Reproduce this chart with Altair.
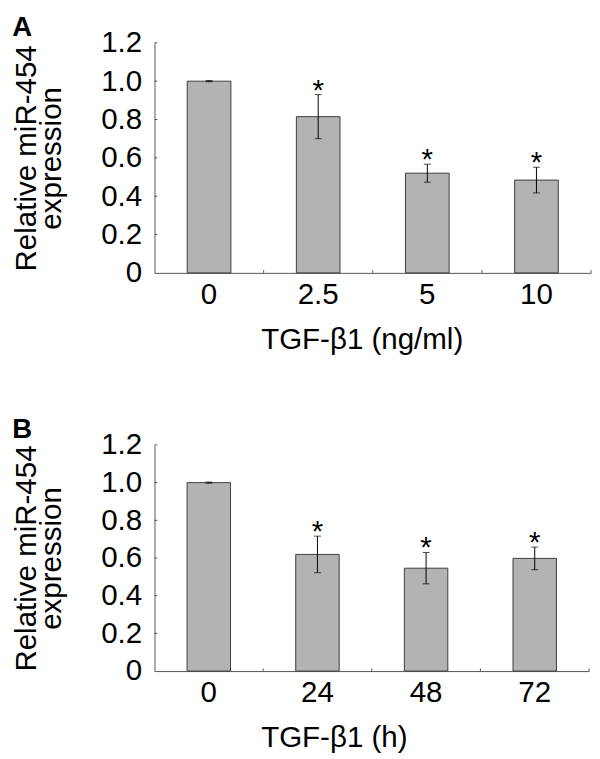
import altair as alt
import pandas as pd

# Panel A: TGF-beta1 dose
a_cats = ["0", "2.5", "5", "10"]
a_vals = [1.0, 0.815, 0.52, 0.484]
a_errs = [0.003, 0.115, 0.047, 0.067]
a_sig = ["", "*", "*", "*"]

# Panel B: TGF-beta1 time
b_cats = ["0", "24", "48", "72"]
b_vals = [1.0, 0.619, 0.546, 0.598]
b_errs = [0.003, 0.097, 0.083, 0.06]
b_sig = ["", "*", "*", "*"]

y_ticks = [0.2, 0.4, 0.6, 0.8, 1.0, 1.2]
y_title = ["Relative miR-454", "expression"]

FONT = "Liberation Sans"


def panel(cats, vals, errs, sig, xtitle, letter, w, h):
    df = pd.DataFrame({
        "cat": cats,
        "val": vals,
        "lo": [v - e for v, e in zip(vals, errs)],
        "hi": [v + e for v, e in zip(vals, errs)],
        "sig": sig,
    })
    xs = alt.Scale(domain=cats, paddingInner=0, paddingOuter=0)
    ys = alt.Scale(domain=[0, 1.2], nice=False)
    xax = alt.Axis(labelAngle=0, ticks=False, labelFontSize=30, titleFontSize=30,
                   titleFontWeight="normal", labelPadding=7, titlePadding=16,
                   domainColor="#555555", labelColor="black", titleColor="black",
                   titleAlign="left", titleAnchor="start", titleX=108)
    yax = alt.Axis(values=[0] + y_ticks, ticks=False, grid=False, labelFontSize=30,
                   labelOverlap=False,
                   labelExpr="datum.value == 0 ? '0' : format(datum.value, '.1f')",
                   labelPadding=13, titleFontSize=30, titleFontWeight="normal",
                   titlePadding=35, titleLineHeight=25, domainColor="#555555",
                   labelColor="black", titleColor="black")

    def X(**kw):
        return alt.X("cat:N", scale=xs, axis=xax, title=xtitle, sort=cats, **kw)

    def Y(field):
        return alt.Y(field, scale=ys, axis=yax, title=y_title)

    base = alt.Chart(df)
    bars = base.mark_bar(color="#b3b3b3", stroke="#3c3c3c", strokeWidth=1,
                         width=alt.RelativeBandSize(0.4)).encode(x=X(), y=Y("val:Q"))
    err = base.mark_rule(color="black", strokeWidth=1).encode(
        x=X(), y=Y("lo:Q"), y2="hi:Q")
    cap_hi = base.mark_tick(color="black", size=7, thickness=1, orient="horizontal").encode(
        x=X(), y=Y("hi:Q"))
    cap_lo = base.mark_tick(color="black", size=7, thickness=1, orient="horizontal").encode(
        x=X(), y=Y("lo:Q"))
    star = base.mark_text(fontSize=30, font=FONT, baseline="alphabetic", dy=5,
                          color="black").encode(x=X(), y=Y("hi:Q"), text="sig:N")
    xt = base.mark_rule(color="#555555", strokeWidth=1).encode(
        x=X(bandPosition=1),
        y=alt.Y(datum=0, scale=ys, axis=yax, title=y_title),
        y2=alt.datum(0.014))
    yt = alt.Chart(pd.DataFrame({"t": y_ticks})).mark_rule(
        color="#555555", strokeWidth=1).encode(
        y=Y("t:Q"), x=alt.value(0), x2=alt.value(3))
    return alt.layer(bars, err, cap_hi, cap_lo, star, xt, yt).properties(
        width=w, height=h,
        title=alt.TitleParams(letter, anchor="start", fontSize=28, fontWeight="bold",
                              font=FONT, offset=-14, color="black"),
    )


pa = panel(a_cats, a_vals, a_errs, a_sig, "TGF-β1 (ng/ml)", "A", 444, 234)
pb = panel(b_cats, b_vals, b_errs, b_sig, "TGF-β1 (h)", "B", 442, 230)

chart = alt.vconcat(pa, pb, spacing=63).properties(
    padding={"left": 4, "top": 0, "right": 0, "bottom": 0}
).configure(font=FONT).configure_axis(labelOverlap=False).configure_view(stroke=None)

chart.save("out.html", embed_options={"renderer": "svg", "actions": False})
